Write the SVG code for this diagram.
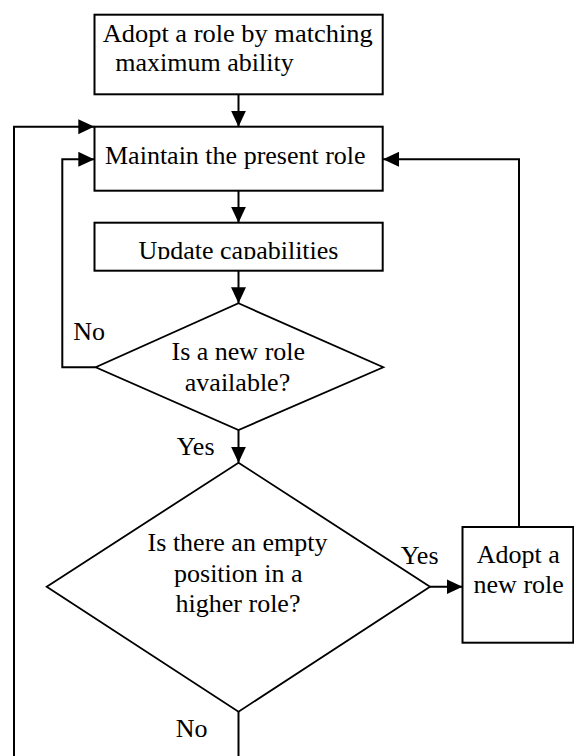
<svg xmlns="http://www.w3.org/2000/svg" width="574" height="756" viewBox="0 0 574 756">
  <style>
    .box { fill: #ffffff; stroke: #000000; stroke-width: 2; }
    .dia { fill: #ffffff; stroke: #000000; stroke-width: 1.8; }
    .txt { font-family: "Liberation Serif", "Times New Roman", serif; font-size: 26px; fill: #000000; }
    .mid { text-anchor: middle; }
    .conn { fill: none; stroke: #000000; stroke-width: 2; }
  </style>
  <defs>
    <marker id="arrow" markerUnits="userSpaceOnUse" markerWidth="16" markerHeight="15" refX="16" refY="7.5" orient="auto">
      <path d="M0,0 L16,7.5 L0,15 z" fill="#000000"/>
    </marker>
    <clipPath id="clipUpdate">
      <rect x="94" y="222" width="290" height="37.2"/>
    </clipPath>
  </defs>
  <rect x="0" y="0" width="574" height="756" fill="#ffffff"/>

  <g id="connectors">
    <path class="conn" d="M238.5,94.5 L238.5,126.7" marker-end="url(#arrow)"/>
    <path class="conn" d="M238.5,190.7 L238.5,222.7" marker-end="url(#arrow)"/>
    <path class="conn" d="M238.5,270.7 L238.5,303.3" marker-end="url(#arrow)"/>
    <path class="conn" d="M238.5,430 L238.5,462.7" marker-end="url(#arrow)"/>
    <path class="conn" d="M430,586.7 L462.5,586.7" marker-end="url(#arrow)"/>
    <path class="conn" d="M519,527 L519,159.3 L383,159.3" marker-end="url(#arrow)"/>
    <path class="conn" d="M95.7,367.3 L62.3,367.3 L62.3,159.3 L94.3,159.3" marker-end="url(#arrow)"/>
    <path class="conn" d="M14,756 L14,126.7 L94.3,126.7" marker-end="url(#arrow)"/>
    <path class="conn" d="M238.5,711.7 L238.5,756"/>
  </g>

  <g id="start">
    <rect class="box" x="94.5" y="14.7" width="288.2" height="79.6"/>
    <text class="txt" x="102.7" y="41.7" textLength="270" lengthAdjust="spacingAndGlyphs">Adopt a role by matching</text>
    <text class="txt" x="115.3" y="71.3">maximum ability</text>
  </g>

  <g id="maintain">
    <rect class="box" x="94.5" y="126.7" width="288.2" height="64"/>
    <text class="txt" x="105" y="164">Maintain the present role</text>
  </g>

  <g id="update">
    <rect class="box" x="94.5" y="222.7" width="288.2" height="48"/>
    <text class="txt mid" x="238.5" y="258.5" clip-path="url(#clipUpdate)">Update capabilities</text>
  </g>

  <g id="newRoleAvailable">
    <polygon class="dia" points="238.5,303.3 383.3,367.3 238.5,430 95.7,367.3"/>
    <text class="txt mid" x="238.3" y="360">Is a new role</text>
    <text class="txt mid" x="237.5" y="391">available?</text>
  </g>

  <g id="emptyPosition">
    <polygon class="dia" points="238.5,462.7 430,586.7 238.5,711.7 46.7,586.7"/>
    <text class="txt mid" x="237.5" y="550.7">Is there an empty</text>
    <text class="txt mid" x="238.3" y="581.7">position in a</text>
    <text class="txt mid" x="238" y="612.3">higher role?</text>
  </g>

  <g id="adoptNew">
    <rect class="box" x="462.5" y="527" width="110.8" height="115.7"/>
    <text class="txt mid" x="518.3" y="563.3">Adopt a</text>
    <text class="txt mid" x="518.7" y="592.7">new role</text>
  </g>

  <g id="labels">
    <text class="txt" x="73.3" y="340">No</text>
    <text class="txt" x="176.7" y="455">Yes</text>
    <text class="txt" x="400.7" y="564.3">Yes</text>
    <text class="txt" x="175.7" y="736.7">No</text>
  </g>
</svg>
